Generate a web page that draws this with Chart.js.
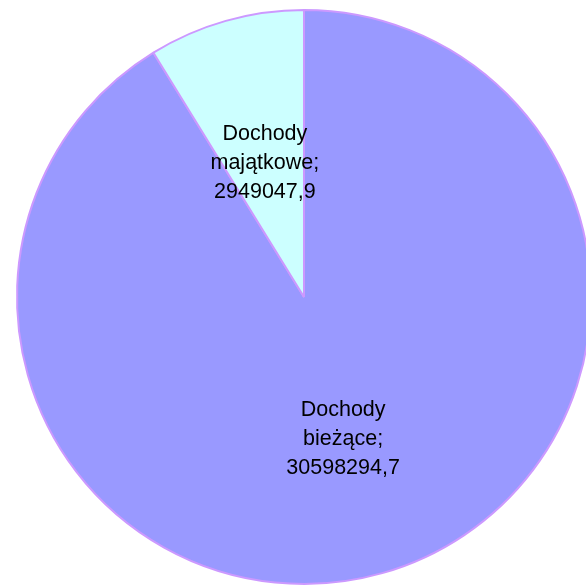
<!DOCTYPE html>
<html>
<head>
<meta charset="utf-8">
<script src="https://cdn.jsdelivr.net/npm/chart.js@4"></script>
<style>
html,body{margin:0;padding:0;background:#fff;overflow:hidden;width:586px;height:586px;}
canvas{display:block;}
</style>
</head>
<body>
<canvas id="c" width="608" height="595"></canvas>
<script>
const categories = ["Dochody bieżące", "Dochody majątkowe"];
const labelLines = [["Dochody", "bieżące;", "30598294,7"], ["Dochody", "majątkowe;", "2949047,9"]];
const values = [30598294.7, 2949047.9];
const colors = ["#9999FF", "#CCFFFF"];

const labelPlugin = {
  id: "sliceLabels",
  afterDatasetsDraw(chart) {
    const ctx = chart.ctx;
    const meta = chart.getDatasetMeta(0);
    ctx.save();
    ctx.font = "21.5px 'Liberation Sans', Arial, sans-serif";
    ctx.fillStyle = "#000";
    ctx.textAlign = "center";
    ctx.textBaseline = "middle";
    meta.data.forEach((arc, i) => {
      const p = arc.getProps(["x", "y", "startAngle", "endAngle", "outerRadius"], true);
      const mid = (p.startAngle + p.endAngle) / 2;
      const r = p.outerRadius * 0.5;
      const cx = p.x + Math.cos(mid) * r;
      const cy = p.y + Math.sin(mid) * r + 4;
      const lines = labelLines[i];
      const lh = 29;
      lines.forEach((t, j) => {
        ctx.fillText(t, cx, cy + (j - (lines.length - 1) / 2) * lh);
      });
    });
    ctx.restore();
  }
};

new Chart(document.getElementById("c"), {
  type: "pie",
  data: {
    labels: categories,
    datasets: [{
      data: values,
      backgroundColor: colors,
      borderColor: "#CC99FF",
      borderWidth: 2
    }]
  },
  options: {
    responsive: false,
    animation: false,
    layout: { padding: { top: 9, bottom: 10, left: 0, right: 0 } },
    plugins: { legend: { display: false }, tooltip: { enabled: false } }
  },
  plugins: [labelPlugin]
});
</script>
</body>
</html>
